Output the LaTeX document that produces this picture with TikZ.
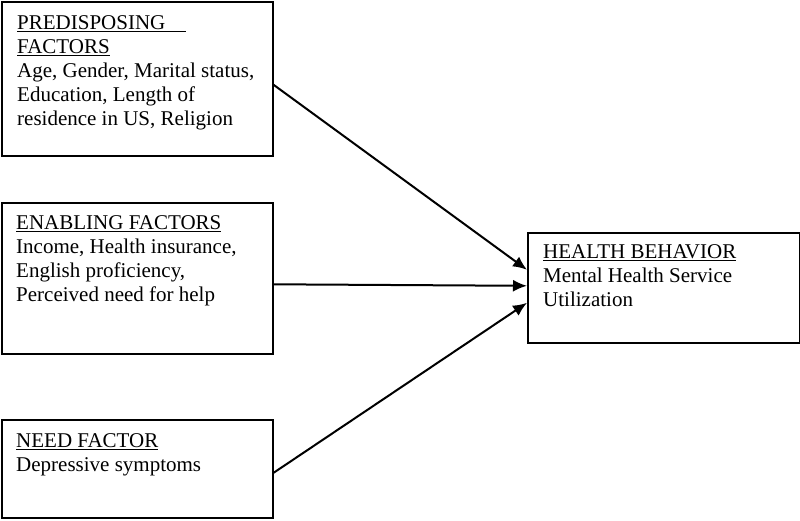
\documentclass[tikz,border=0pt]{standalone}
\usepackage{fontspec}
\setmainfont{Liberation Serif}
\usetikzlibrary{arrows.meta}

\begin{document}
\begin{tikzpicture}[x=1pt,y=-1pt,
  box/.style={draw,line width=1.6pt,inner sep=0pt,anchor=north west},
  txt/.style={inner sep=0pt,anchor=north west,align=left,font=\fontsize{21}{24.2}\selectfont},
  arr/.style={line width=2pt,-{Latex[length=14pt,width=12pt]}}]
\useasboundingbox (0,0) rectangle (800,520);
\fill[white] (0,0) rectangle (800,520);

% the four boxes
\node[box,minimum width=271pt,minimum height=154pt] (pre) at (1,1) {};
\node[box,minimum width=271pt,minimum height=151pt] (ena) at (1,202) {};
\node[box,minimum width=271pt,minimum height=98pt] (need) at (1,419) {};
\node[box,minimum width=272pt,minimum height=110pt] (beh) at (527,232) {};

% texts
\node[txt] (pretxt) at ([shift={(16pt,-14pt)}]pre.north west)
  {\underline{PREDISPOSING\hspace{21pt}}\\ \underline{FACTORS}\\
   Age, Gender, Marital status,\\ Education, Length of\\ residence in US, Religion};
\node[txt] (enatxt) at ([shift={(15pt,-13pt)}]ena.north west)
  {\underline{ENABLING FACTORS}\\ Income, Health insurance,\\
   English proficiency,\\ Perceived need for help};
\node[txt] (needtxt) at ([shift={(15pt,-14pt)}]need.north west)
  {\underline{NEED FACTOR}\\ Depressive symptoms};
\node[txt] (behtxt) at ([shift={(16pt,-12pt)}]beh.north west)
  {\underline{HEALTH BEHAVIOR}\\ Mental Health Service\\ Utilization};

% arrows
\draw[arr] ([yshift=-6pt]pre.east) -- ([yshift=18pt]beh.west);
\draw[arr] ([yshift=-6pt]ena.east) -- ([yshift=2pt]beh.west);
\draw[arr] ([yshift=-4pt]need.east) -- ([yshift=-15pt]beh.west);
\end{tikzpicture}
\end{document}
